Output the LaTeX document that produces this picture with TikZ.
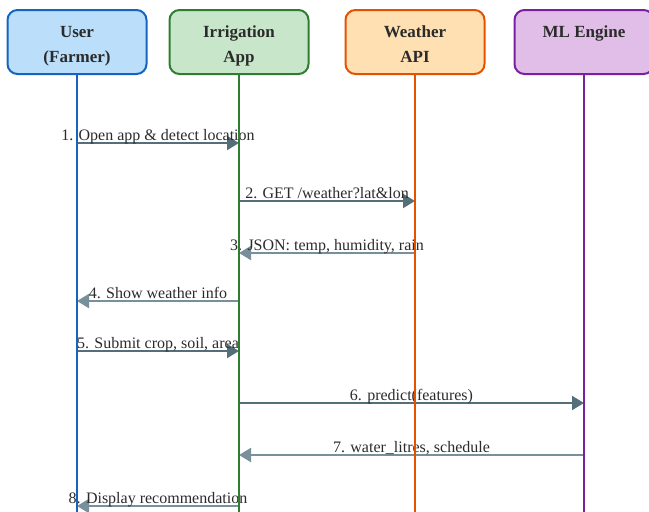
\documentclass[tikz,border=0pt]{standalone}
\usepackage{fontspec}
\setmainfont{Liberation Serif}
\usetikzlibrary{arrows.meta}
\definecolor{txt}{HTML}{2B2B2B}
\definecolor{reqc}{HTML}{546E7A}
\definecolor{resc}{HTML}{78909C}
\definecolor{ublue}{HTML}{1565C0}\definecolor{ufill}{HTML}{BBDEFB}
\definecolor{agreen}{HTML}{2E7D32}\definecolor{afill}{HTML}{C8E6C9}
\definecolor{worange}{HTML}{E65100}\definecolor{wfill}{HTML}{FFE0B2}
\definecolor{mpurple}{HTML}{7B1FA2}\definecolor{mfill}{HTML}{E1BEE7}
\tikzset{
  actor/.style={draw=#1, line width=2pt, rounded corners=10pt,
    minimum width=139pt, minimum height=64pt, inner sep=0pt},
  head/.style={font=\fontsize{17}{20}\selectfont\bfseries, text=txt, anchor=base, inner sep=0pt},
  life/.style={line width=1.5pt, draw=#1},
  msg/.style={line width=2pt, draw=#1, -{Triangle[length=12pt,width=14pt,fill=#1]}},
  req/.style={msg=reqc},
  res/.style={msg=resc},
  lbl/.style={font=\fontsize{16}{18}\selectfont, text=txt, anchor=base, inner sep=0pt, yshift=2.5pt},
}
\begin{document}
\begin{tikzpicture}[x=1pt,y=-1pt]
\useasboundingbox (0,0) rectangle (649,512);

% participant boxes
\node[actor=ublue, fill=ufill] (user) at (77,42) {};
\node[actor=agreen, fill=afill] (app) at (239,42) {};
\node[actor=worange, fill=wfill] (weather) at (415,42) {};
\node[actor=mpurple, fill=mfill] (ml) at (584,42) {};

\node[head] (userA) at (77,37) {User};
\node[head] (userB) at (77,62) {(Farmer)};
\node[head] (appA) at (239,37) {Irrigation};
\node[head] (appB) at (239,62) {App};
\node[head] (weatherA) at (415,37) {Weather};
\node[head] (weatherB) at (415,62) {API};
\node[head] (mlA) at (584,37) {ML Engine};

% lifeline ends
\coordinate (userEnd) at (77,512);
\coordinate (appEnd) at (239,512);
\coordinate (weatherEnd) at (415,512);
\coordinate (mlEnd) at (584,512);

% message end points
\foreach \n/\y in {1/143,2/201,3/253,4/301,5/351,6/403,7/455,8/506}{
  \coordinate (u\n) at (user.south |- 0,\y);
  \coordinate (a\n) at (app.south |- 0,\y);
  \coordinate (w\n) at (weather.south |- 0,\y);
  \coordinate (m\n) at (ml.south |- 0,\y);
}

% messages
\draw[req] (u1) -- node[lbl] (l1) {1. Open app \& detect location} (a1);
\draw[req] (a2) -- node[lbl] (l2) {2. GET /weather?lat\&lon} (w2);
\draw[res] (w3) -- node[lbl] (l3) {3. JSON: temp, humidity, rain} (a3);
\draw[res] (a4) -- node[lbl] (l4) {4. Show weather info} (u4);
\draw[req] (u5) -- node[lbl] (l5) {5. Submit crop, soil, area} (a5);
\draw[req] (a6) -- node[lbl] (l6) {6. predict(features)} (m6);
\draw[res] (m7) -- node[lbl] (l7) {7. water\_litres, schedule} (a7);
\draw[res] (a8) -- node[lbl] (l8) {8. Display recommendation} (u8);

% lifelines
\draw[life=ublue] (user.south) -- (userEnd);
\draw[life=agreen] (app.south) -- (appEnd);
\draw[life=worange] (weather.south) -- (weatherEnd);
\draw[life=mpurple] (ml.south) -- (mlEnd);
\end{tikzpicture}
\end{document}
